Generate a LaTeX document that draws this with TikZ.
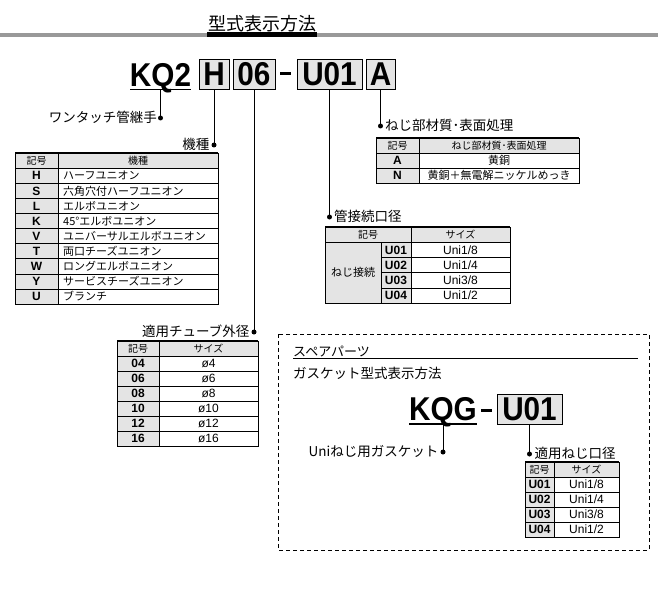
\documentclass[tikz,border=0pt]{standalone}
\usepackage{fontspec}
\usepackage{graphicx}
\setmainfont{Liberation Sans}
\newfontfamily\jp{Noto Sans CJK JP}
\newcommand\bigtxt[1]{\scalebox{0.9}[1]{#1}}
\definecolor{hdrgray}{HTML}{E4E4E4}
\definecolor{bargray}{HTML}{999999}
\begin{document}
\begin{tikzpicture}[x=1pt,y=-1pt,
 jl/.style={font=\jp\fontsize{13.5}{14}\selectfont, inner sep=0pt},
 big/.style={font=\bfseries\fontsize{33}{33}\selectfont, inner sep=0pt, text height=23.6pt, text depth=0pt},
 codebox/.style={big, draw=black, line width=0.9pt, fill=hdrgray, minimum height=30pt},
 dotn/.style={circle, fill=black, inner sep=0pt, minimum size=5pt},
 conn/.style={line width=0.9pt},
 th/.style={font=\jp\fontsize{10}{11}\selectfont, inner sep=0pt, anchor=base},
 tj/.style={font=\jp\fontsize{11}{12}\selectfont, inner sep=0pt, anchor=base},
 tc/.style={font=\bfseries\fontsize{12}{12}\selectfont, inner sep=0pt, anchor=base},
 tv/.style={font=\fontsize{12}{12}\selectfont, inner sep=0pt, anchor=base},
 tline/.style={line width=0.6pt},
 topl/.style={line width=1.6pt},
]
\useasboundingbox (0,0) rectangle (658,596);

% title
\fill[bargray] (0,33) rectangle (658,37);
\fill[black] (207,32) rectangle (317,37.5);
\node[font=\jp\fontsize{18}{18}\selectfont, inner sep=0pt] (title) at (262,23.5) {型式表示方法};

% code line
\node[big] (kq2) at (160.5,75) {\bigtxt{KQ2}};
\draw[line width=1.5pt] (130,89.5) -- (191,89.5);
\node[codebox, minimum width=30pt] (bh) at (214,74) {\bigtxt{H}};
\node[codebox, minimum width=42pt] (b06) at (254,74) {\bigtxt{06}};
\coordinate (dsa) at (280,74); \coordinate (dsb) at (291,74);
\draw[line width=3pt] (dsa) -- (dsb);
\node[codebox, minimum width=65pt] (bu) at (329.5,74) {\bigtxt{U01}};
\node[codebox, minimum width=29pt] (ba) at (380.5,74) {\bigtxt{A}};

% connectors and labels
\node[dotn] (d1) at (160.5,118) {};
\node[dotn] (d2) at (214,145) {};
\node[dotn] (d3) at (254,332) {};
\node[dotn] (d4) at (329.5,217) {};
\node[dotn] (d5) at (380.5,126) {};
\draw[conn] (kq2.south) ++(0,2.8) -- (d1.center);
\draw[conn] (bh.south) -- (d2.center);
\draw[conn] (b06.south) -- (d3.center);
\draw[conn] (bu.south) -- (d4.center);
\draw[conn] (ba.south) -- (d5.center);
\node[jl, anchor=east] (l1) at (157,117.5) {ワンタッチ管継手};
\node[jl, anchor=east] (l2) at (209.5,144.5) {機種};
\node[jl, anchor=east] (l3) at (249.5,331.5) {適用チューブ外径};
\node[jl, anchor=west] (l4) at (334,216.5) {管接続口径};
\node[jl, anchor=west] (l5) at (385,125.5) {ねじ部材質･表面処理};

% table 1 : kishu
\fill[hdrgray] (15,153) rectangle (218,168.1);
\fill[hdrgray] (15,168.1) rectangle (58,304);
\foreach \i in {1,...,9} \draw[tline] (15,153+15.1*\i) -- (218,153+15.1*\i);
\draw[tline] (15,153) rectangle (218,304);
\draw[tline] (58,153) -- (58,304);
\draw[topl] (15,153) -- (218,153);
\node[th] (t1h1) at (36.5,164.6) {記号};
\node[th] (t1h2) at (138,164.6) {機種};
\foreach \c/\t [count=\i] in {H/ハーフユニオン, S/六角穴付ハーフユニオン, L/エルボユニオン, K/45°エルボユニオン, V/ユニバーサルエルボユニオン, T/両口チーズユニオン, W/ロングエルボユニオン, Y/サービスチーズユニオン, U/ブランチ}{
  \node[tc] (t1c\i) at (36.5,153+15.1*\i+11.9) {\c};
  \node[tj, anchor=base west] (t1t\i) at (63,153+15.1*\i+11.9) {\t};
}

% table 2 : tube size
\fill[hdrgray] (117,341) rectangle (258,356);
\fill[hdrgray] (117,356) rectangle (159,446);
\foreach \i in {1,...,6} \draw[tline] (117,341+15*\i) -- (258,341+15*\i);
\draw[tline] (117,341) rectangle (258,446);
\draw[tline] (159,341) -- (159,446);
\draw[topl] (117,341) -- (258,341);
\node[th] (t2h1) at (138,352.4) {記号};
\node[th] (t2h2) at (208.5,352.4) {サイズ};
\foreach \c/\t [count=\i] in {04/ø4, 06/ø6, 08/ø8, 10/ø10, 12/ø12, 16/ø16}{
  \node[tc] (t2c\i) at (138,341+15*\i+11.8) {\c};
  \node[tv] (t2t\i) at (208.5,341+15*\i+11.8) {\t};
}

% table 3 : material
\fill[hdrgray] (376,138) rectangle (579,153);
\fill[hdrgray] (376,153) rectangle (419,183);
\foreach \i in {1,2} \draw[tline] (376,138+15*\i) -- (579,138+15*\i);
\draw[tline] (376,138) rectangle (579,183);
\draw[tline] (419,138) -- (419,183);
\draw[topl] (376,138) -- (579,138);
\node[th] (t3h1) at (397.5,149.4) {記号};
\node[th, font=\jp\fontsize{10}{10}\selectfont] (t3h2) at (499,149.2) {ねじ部材質･表面処理};
\node[tc] (t3c1) at (397.5,164.8) {A};
\node[tj] (t3t1) at (499,164.8) {黄銅};
\node[tc] (t3c2) at (397.5,179.8) {N};
\node[tj] (t3t2) at (499,179.8) {黄銅＋無電解ニッケルめっき};

% table 4 : port size
\fill[hdrgray] (325,227) rectangle (510,242.2);
\fill[hdrgray] (325,242.2) rectangle (411,303);
\foreach \i in {2,3,4} \draw[tline] (381,227+15.2*\i) -- (510,227+15.2*\i);
\draw[tline] (325,242.2) -- (510,242.2);
\draw[tline] (325,227) rectangle (510,303);
\draw[tline] (411,227) -- (411,303);
\draw[tline] (381,242.2) -- (381,303);
\draw[topl] (325,227) -- (510,227);
\node[th] (t4h1) at (368,238.6) {記号};
\node[th] (t4h2) at (460.5,238.6) {サイズ};
\node[tj] (t4m) at (353,276.7) {ねじ接続};
\foreach \c/\t [count=\i] in {U01/{Uni1/8}, U02/{Uni1/4}, U03/{Uni3/8}, U04/{Uni1/2}}{
  \node[tc] (t4c\i) at (396,227+15.2*\i+11.9) {\c};
  \node[tv] (t4t\i) at (460.5,227+15.2*\i+11.9) {\t};
}

% spare parts box
\draw[line width=0.9pt, dash pattern=on 4pt off 3pt] (278,334) rectangle (649,550);
\node[jl, font=\jp\fontsize{13}{14}\selectfont, anchor=base west] (sp) at (293,356) {スペアパーツ};
\draw[line width=1.5pt] (293,358.5) -- (638,358.5);
\node[jl, anchor=base west] (gk) at (293,378.5) {ガスケット型式表示方法};
\node[big] (kqg) at (443,409) {\bigtxt{KQG}};
\draw[line width=1.5pt] (409,424) -- (477,424);
\coordinate (dsc) at (481,410); \coordinate (dsd) at (492,410);
\draw[line width=3pt] (dsc) -- (dsd);
\node[codebox, minimum width=65pt] (bu2) at (529.5,409) {\bigtxt{U01}};
\node[dotn] (d6) at (443,452) {};
\node[dotn] (d7) at (529.5,454) {};
\draw[conn] (kqg.south) ++(0,3) -- (d6.center);
\draw[conn] (bu2.south) -- (d7.center);
\node[jl, anchor=east] (l6) at (438.5,451.5) {Uniねじ用ガスケット};
\node[jl, anchor=west] (l7) at (534.5,453.5) {適用ねじ口径};

% table 5
\fill[hdrgray] (525,462) rectangle (619,477);
\fill[hdrgray] (525,477) rectangle (554,537);
\foreach \i in {1,...,4} \draw[tline] (525,462+15*\i) -- (619,462+15*\i);
\draw[tline] (525,462) rectangle (619,537);
\draw[tline] (554,462) -- (554,537);
\draw[topl] (525,462) -- (619,462);
\node[th] (t5h1) at (539.5,473.4) {記号};
\node[th] (t5h2) at (586.5,473.4) {サイズ};
\foreach \c/\t [count=\i] in {U01/{Uni1/8}, U02/{Uni1/4}, U03/{Uni3/8}, U04/{Uni1/2}}{
  \node[tc] (t5c\i) at (539.5,462+15*\i+11.8) {\c};
  \node[tv] (t5t\i) at (586.5,462+15*\i+11.8) {\t};
}
\end{tikzpicture}
\end{document}
